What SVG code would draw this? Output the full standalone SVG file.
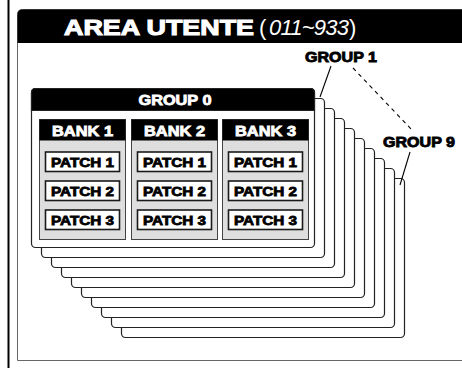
<svg xmlns="http://www.w3.org/2000/svg" width="462" height="368" viewBox="0 0 462 368">
  <style>
    .lbl { font-family: "Liberation Sans", Arial, sans-serif; font-weight: bold; }
    .w { fill: #fff; }
    .grp { fill: #fff; stroke: #222; stroke-width: 1.2; }
    .bank { fill: #dedede; stroke: #444; stroke-width: 1; }
    .patch { fill: #fff; stroke: #1a1a1a; stroke-width: 1.6; }
    .ptxt { font-size: 13px; fill: #000; stroke: #000; stroke-width: 0.8; }
    .btxt { font-size: 14px; fill: #fff; stroke: #fff; stroke-width: 0.8; }
    .call { font-size: 15px; fill: #000; stroke: #000; stroke-width: 0.9; }
    .lcd { font-family: "Liberation Sans", Arial, sans-serif; font-size: 22px; fill: #fff; }
    .lead { fill: none; stroke: #000; stroke-width: 1.1; }
  </style>

  <!-- left margin rule -->
  <rect x="7.5" y="0" width="2" height="368" fill="#000"/>

  <!-- user area frame with black title bar -->
  <g id="area">
    <path d="M17.5,360.5 V14.5 Q17.5,9.5 22.5,9.5 H470 V360.5 Z" fill="#fff" stroke="#666" stroke-width="1"/>
    <path d="M17.5,43 V14.5 Q17.5,9.5 22.5,9.5 H470 V43 Z" fill="#000"/>
    <text class="lbl w" x="64" y="35" font-size="22" stroke="#fff" stroke-width="1.1" textLength="190" lengthAdjust="spacingAndGlyphs">AREA UTENTE</text>
    <text class="lcd" x="259" y="35" font-weight="normal">(</text>
    <text class="lcd" x="269" y="35" font-style="italic" font-weight="normal" textLength="80" lengthAdjust="spacing">011~933</text>
    <text class="lcd" x="349" y="35" font-weight="normal">)</text>
  </g>

  <!-- stacked groups, back to front -->
  <g id="group9"><rect class="grp" x="121.5" y="178.5" width="283" height="159" rx="4"/></g>
  <g id="group8"><rect class="grp" x="111.5" y="168.5" width="283" height="159" rx="4"/></g>
  <g id="group7"><rect class="grp" x="101.5" y="158.5" width="283" height="159" rx="4"/></g>
  <g id="group6"><rect class="grp" x="91.5" y="148.5" width="283" height="159" rx="4"/></g>
  <g id="group5"><rect class="grp" x="81.5" y="138.5" width="283" height="159" rx="4"/></g>
  <g id="group4"><rect class="grp" x="71.5" y="128.5" width="283" height="159" rx="4"/></g>
  <g id="group3"><rect class="grp" x="61.5" y="118.5" width="283" height="159" rx="4"/></g>
  <g id="group2"><rect class="grp" x="51.5" y="108.5" width="283" height="159" rx="4"/></g>
  <g id="group1"><rect class="grp" x="41.5" y="98.5" width="283" height="159" rx="4"/></g>

  <g id="group0">
    <rect class="grp" x="31.5" y="88.5" width="283" height="159" rx="4"/>
    <path d="M31.5,110.5 V92.5 Q31.5,88.5 35.5,88.5 H310.5 Q314.5,88.5 314.5,92.5 V110.5 Z" fill="#000" stroke="#222" stroke-width="1.2"/>
    <text class="lbl btxt" x="175" y="105" text-anchor="middle" textLength="73" lengthAdjust="spacingAndGlyphs">GROUP 0</text>
  </g>

  <g id="bank1">
    <rect class="bank" x="39.5" y="119.5" width="86" height="120"/>
    <rect x="39.5" y="119.5" width="86" height="21" fill="#000"/>
    <text class="lbl btxt" x="82.5" y="136" text-anchor="middle" textLength="61" lengthAdjust="spacingAndGlyphs">BANK 1</text>
    <g id="bank1-patch1"><rect class="patch" x="45.5" y="152" width="74" height="19.5"/><text class="lbl ptxt" x="82.5" y="166.5" text-anchor="middle" textLength="63" lengthAdjust="spacingAndGlyphs">PATCH 1</text></g>
    <g id="bank1-patch2"><rect class="patch" x="45.5" y="181" width="74" height="19.5"/><text class="lbl ptxt" x="82.5" y="195.5" text-anchor="middle" textLength="63" lengthAdjust="spacingAndGlyphs">PATCH 2</text></g>
    <g id="bank1-patch3"><rect class="patch" x="45.5" y="210" width="74" height="19.5"/><text class="lbl ptxt" x="82.5" y="224.5" text-anchor="middle" textLength="63" lengthAdjust="spacingAndGlyphs">PATCH 3</text></g>
  </g>

  <g id="bank2">
    <rect class="bank" x="131.5" y="119.5" width="86" height="120"/>
    <rect x="131.5" y="119.5" width="86" height="21" fill="#000"/>
    <text class="lbl btxt" x="174.5" y="136" text-anchor="middle" textLength="61" lengthAdjust="spacingAndGlyphs">BANK 2</text>
    <g id="bank2-patch1"><rect class="patch" x="137.5" y="152" width="74" height="19.5"/><text class="lbl ptxt" x="174.5" y="166.5" text-anchor="middle" textLength="63" lengthAdjust="spacingAndGlyphs">PATCH 1</text></g>
    <g id="bank2-patch2"><rect class="patch" x="137.5" y="181" width="74" height="19.5"/><text class="lbl ptxt" x="174.5" y="195.5" text-anchor="middle" textLength="63" lengthAdjust="spacingAndGlyphs">PATCH 2</text></g>
    <g id="bank2-patch3"><rect class="patch" x="137.5" y="210" width="74" height="19.5"/><text class="lbl ptxt" x="174.5" y="224.5" text-anchor="middle" textLength="63" lengthAdjust="spacingAndGlyphs">PATCH 3</text></g>
  </g>

  <g id="bank3">
    <rect class="bank" x="222.5" y="119.5" width="86" height="120"/>
    <rect x="222.5" y="119.5" width="86" height="21" fill="#000"/>
    <text class="lbl btxt" x="265.5" y="136" text-anchor="middle" textLength="61" lengthAdjust="spacingAndGlyphs">BANK 3</text>
    <g id="bank3-patch1"><rect class="patch" x="228.5" y="152" width="74" height="19.5"/><text class="lbl ptxt" x="265.5" y="166.5" text-anchor="middle" textLength="63" lengthAdjust="spacingAndGlyphs">PATCH 1</text></g>
    <g id="bank3-patch2"><rect class="patch" x="228.5" y="181" width="74" height="19.5"/><text class="lbl ptxt" x="265.5" y="195.5" text-anchor="middle" textLength="63" lengthAdjust="spacingAndGlyphs">PATCH 2</text></g>
    <g id="bank3-patch3"><rect class="patch" x="228.5" y="210" width="74" height="19.5"/><text class="lbl ptxt" x="265.5" y="224.5" text-anchor="middle" textLength="63" lengthAdjust="spacingAndGlyphs">PATCH 3</text></g>
  </g>

  <!-- callout labels -->
  <g id="label-group1">
    <text class="lbl call" x="305" y="62" textLength="72" lengthAdjust="spacingAndGlyphs">GROUP 1</text>
  </g>
  <g id="label-group9">
    <text class="lbl call" x="383" y="147" textLength="72" lengthAdjust="spacingAndGlyphs">GROUP 9</text>
  </g>

  <!-- leader lines -->
  <g id="connectors">
    <line class="lead" x1="331" y1="66" x2="320" y2="97"/>
    <line class="lead" x1="353" y1="68" x2="412" y2="130" stroke-dasharray="4 4"/>
    <line class="lead" x1="410" y1="152" x2="400" y2="185"/>
  </g>
</svg>
